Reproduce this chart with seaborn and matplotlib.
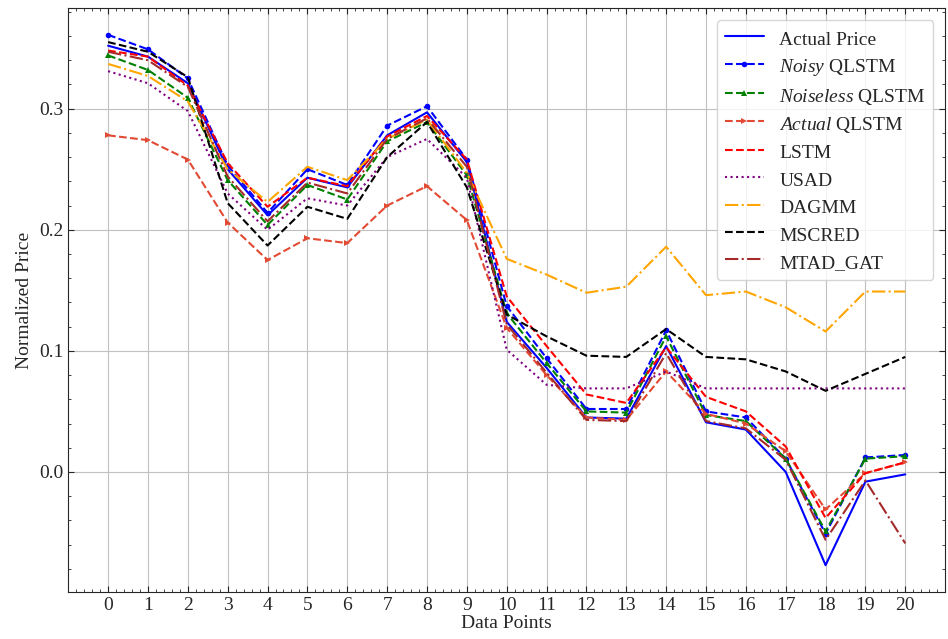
import numpy as np
import pandas as pd
import matplotlib
matplotlib.use("Agg")
import matplotlib.pyplot as plt
import seaborn as sns
from matplotlib.ticker import AutoMinorLocator, MultipleLocator

# data points
points = list(range(21))

actual_price = [0.352, 0.343, 0.321, 0.250, 0.212, 0.243, 0.235, 0.278, 0.297, 0.256,
                0.124, 0.086, 0.045, 0.044, 0.104, 0.041, 0.035, 0.000, -0.077, -0.008, -0.002]
noisy_qlstm = [0.361, 0.349, 0.325, 0.253, 0.214, 0.250, 0.237, 0.286, 0.302, 0.258,
               0.137, 0.094, 0.052, 0.052, 0.117, 0.050, 0.045, 0.011, -0.051, 0.012, 0.014]
noiseless_qlstm = [0.344, 0.332, 0.309, 0.241, 0.204, 0.237, 0.225, 0.273, 0.289, 0.245,
                   0.131, 0.090, 0.050, 0.049, 0.112, 0.047, 0.042, 0.011, -0.049, 0.011, 0.013]
actual_qlstm = [0.278, 0.274, 0.258, 0.206, 0.175, 0.193, 0.189, 0.220, 0.236, 0.208,
                0.119, 0.080, 0.045, 0.043, 0.083, 0.048, 0.040, 0.017, -0.031, -0.001, 0.008]
lstm = [0.348, 0.343, 0.319, 0.255, 0.219, 0.243, 0.236, 0.277, 0.294, 0.258,
        0.145, 0.104, 0.064, 0.057, 0.103, 0.062, 0.050, 0.021, -0.038, -0.001, 0.008]
usad = [0.331, 0.321, 0.298, 0.230, 0.200, 0.226, 0.220, 0.260, 0.275, 0.243,
        0.101, 0.072, 0.069, 0.069, 0.083, 0.069, 0.069, 0.069, 0.069, 0.069, 0.069]
dagmm = [0.337, 0.327, 0.306, 0.250, 0.223, 0.252, 0.241, 0.275, 0.291, 0.247,
         0.176, 0.163, 0.148, 0.153, 0.186, 0.146, 0.149, 0.136, 0.116, 0.149, 0.149]
mscred = [0.355, 0.347, 0.326, 0.222, 0.187, 0.219, 0.209, 0.260, 0.289, 0.235,
          0.130, 0.112, 0.096, 0.095, 0.118, 0.095, 0.093, 0.083, 0.067, 0.081, 0.095]
mtad_gat = [0.347, 0.340, 0.318, 0.244, 0.207, 0.239, 0.230, 0.275, 0.292, 0.252,
            0.122, 0.082, 0.043, 0.042, 0.098, 0.042, 0.036, 0.010, -0.056, -0.007, -0.059]

sns.set_style("ticks")
plt.rcParams['font.family'] = ['Liberation Serif', 'DejaVu Serif']
plt.rcParams['mathtext.fontset'] = 'custom'
plt.rcParams['mathtext.rm'] = 'Liberation Serif'
plt.rcParams['mathtext.it'] = 'Liberation Serif:italic'
plt.rcParams['font.size'] = 14

fig, ax = plt.subplots(figsize=(9.48, 6.39), dpi=100)
fig.subplots_adjust(left=0.072, right=0.997, bottom=0.074, top=0.987)

#(라벨, 값, 색, 선모양, 마커)
series = [
    ('Actual Price', actual_price, 'blue', '-', None),
    (r'$\it{Noisy}$ QLSTM', noisy_qlstm, 'blue', '--', 'o'),
    (r'$\it{Noiseless}$ QLSTM', noiseless_qlstm, 'green', '--', '^'),
    (r'$\it{Actual}$ QLSTM', actual_qlstm, '#E24A33', '--', '>'),
    ('LSTM', lstm, 'red', '--', None),
    ('USAD', usad, 'purple', ':', None),
    ('DAGMM', dagmm, 'orange', '-.', None),
    ('MSCRED', mscred, 'black', '--', None),
    ('MTAD_GAT', mtad_gat, 'brown', '-.', None),
]

for label, vals, color, ls, mk in series:
    sns.lineplot(x=points, y=vals, ax=ax, color=color, linestyle=ls, marker=mk,
                 markersize=4, markeredgewidth=0, linewidth=1.5, label=label)

ax.set_xlim(-1, 21)
ax.set_xticks(points)
ax.xaxis.set_minor_locator(AutoMinorLocator(5))
ax.yaxis.set_major_locator(MultipleLocator(0.1))
ax.yaxis.set_minor_locator(AutoMinorLocator(5))
ax.tick_params(which='both', direction='in', top=True, right=True)
ax.tick_params(which='major', length=4)
ax.tick_params(which='minor', length=2)
ax.grid(True, color='#c0c0c0', linewidth=0.8)

ax.set_xlabel('Data Points', labelpad=1)
ax.set_ylabel('Normalized Price', labelpad=4)
# handleheight를 키워서 mathtext 줄도 간격이 같게
ax.legend(loc='upper right', fontsize=14, framealpha=0.8,
          handleheight=1.3, labelspacing=0.32, borderaxespad=0.6)

plt.savefig('out.png', dpi=100)
